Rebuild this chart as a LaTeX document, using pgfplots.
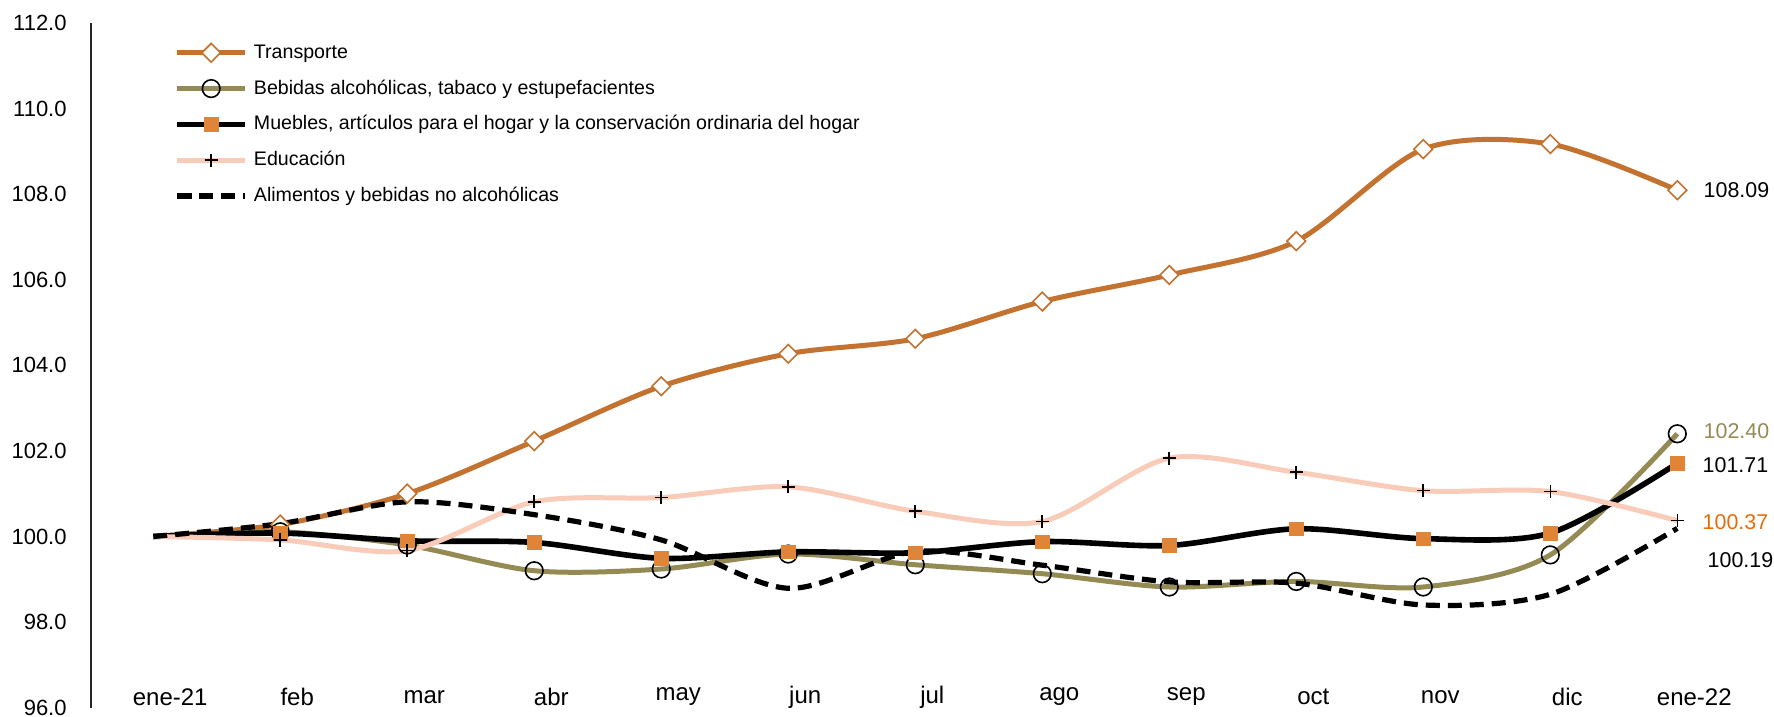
\documentclass[border=0pt]{standalone}
\usepackage{fontspec}
\setmainfont{Liberation Sans}
\usepackage{pgfplots}
\pgfplotsset{compat=1.18}
\definecolor{transp}{RGB}{195,114,48}
\definecolor{olive}{RGB}{148,138,84}
\definecolor{sqor}{RGB}{224,132,56}
\definecolor{peach}{RGB}{248,204,184}
\definecolor{lblor}{RGB}{228,108,10}
\begin{document}
\begin{tikzpicture}
\begin{axis}[
  name=ax,
  scale only axis, width=824.9pt, height=342.4pt,
  xmin=-0.49, xmax=12.5, ymin=96, ymax=112,
  clip=false,
  axis y line=left, axis x line=bottom,
  x axis line style={draw=none},
  y axis line style={-, line width=0.6pt, color=black!85},
  major tick length=0pt,
  tick style={draw=none},
  ytick={96,98,...,112},
  xtick={0,...,12},
  xticklabels={ene-21,feb,mar,abr,may,jun,jul,ago,sep,oct,nov,dic,ene-22},
  yticklabel style={font=\fontsize{11}{13}\selectfont, /pgf/number format/.cd, fixed, fixed zerofill, precision=1, assume math mode=true, /tikz/.cd, inner sep=0pt, anchor=east, xshift=-12pt},
  xticklabel style={font=\fontsize{12}{14}\selectfont, anchor=center, yshift=5.35pt, xshift=8.5pt, inner sep=0pt},
  legend image code/.code={\draw[#1, mark indices={2}] plot coordinates {(0pt,0pt) (17pt,0pt) (34pt,0pt)};},
  legend cell align=left,
  legend style={at={(0.0503,1)}, anchor=north west, yshift=-10pt, draw=none, fill=none, inner sep=0pt,
    font=\fontsize{9.8}{12}\selectfont, row sep=8.4pt,
    nodes={inner xsep=3pt, inner ysep=0pt, text height=7.5pt, text depth=2pt}},
  every axis plot/.append style={smooth, mark indices={2,...,13}},
]
\addplot[color=transp, line width=2.5pt, mark=square*, mark size=3.3pt,
  mark options={rotate=45, fill=white, draw=transp, line width=0.8pt, solid}]
  coordinates {(0,100) (1,100.28) (2,101.00) (3,102.23) (4,103.51) (5,104.27) (6,104.62) (7,105.49) (8,106.11) (9,106.90) (10,109.05) (11,109.17) (12,108.09)};
\addlegendentry{Transporte}
\addplot[color=olive, line width=2.5pt, mark=o, mark size=4.4pt,
  mark options={draw=black, line width=0.8pt, solid}]
  coordinates {(0,100) (1,100.11) (2,99.80) (3,99.20) (4,99.24) (5,99.59) (6,99.34) (7,99.13) (8,98.82) (9,98.95) (10,98.82) (11,99.57) (12,102.40)};
\addlegendentry{Bebidas alcohólicas, tabaco y estupefacientes}
\addplot[color=black, line width=2.8pt, mark=square*, mark size=3.4pt,
  mark options={fill=sqor, draw=sqor, line width=0.3pt, solid}]
  coordinates {(0,100) (1,100.08) (2,99.90) (3,99.86) (4,99.49) (5,99.64) (6,99.62) (7,99.88) (8,99.79) (9,100.18) (10,99.95) (11,100.08) (12,101.71)};
\addlegendentry{Muebles, artículos para el hogar y la conservación ordinaria del hogar}
\addplot[color=peach, line width=2.5pt, mark=+, mark size=3.3pt,
  mark options={draw=black, line width=0.8pt, solid}]
  coordinates {(0,100) (1,99.92) (2,99.67) (3,100.81) (4,100.91) (5,101.16) (6,100.59) (7,100.35) (8,101.83) (9,101.50) (10,101.07) (11,101.05) (12,100.37)};
\addlegendentry{Educación}
\addplot[color=black, line width=2.6pt, dash pattern=on 7pt off 4pt, mark=none]
  coordinates {(0,100) (1,100.30) (2,100.81) (3,100.51) (4,99.92) (5,98.79) (6,99.65) (7,99.33) (8,98.94) (9,98.91) (10,98.40) (11,98.65) (12,100.19)};
\addlegendentry{Alimentos y bebidas no alcohólicas}
\node[anchor=west, inner sep=0pt, xshift=13pt, font=\fontsize{10.7}{12}\selectfont] at (axis cs:12,108.10) {108.09};
\node[anchor=west, inner sep=0pt, xshift=13pt, text=olive, font=\fontsize{10.7}{12}\selectfont] at (axis cs:12,102.46) {102.40};
\node[anchor=west, inner sep=0pt, xshift=12.5pt, font=\fontsize{10.7}{12}\selectfont] at (axis cs:12,101.67) {101.71};
\node[anchor=west, inner sep=0pt, xshift=12.5pt, text=lblor, font=\fontsize{10.7}{12}\selectfont] at (axis cs:12,100.34) {100.37};
\node[anchor=west, inner sep=0pt, xshift=15pt, font=\fontsize{10.7}{12}\selectfont] at (axis cs:12,99.45) {100.19};
\end{axis}
\pgfresetboundingbox
\path[use as bounding box] ([shift={(-45.5pt,-4.65pt)}]ax.south west) rectangle ([shift={(841.5pt,353.85pt)}]ax.south west);
\end{tikzpicture}
\end{document}
